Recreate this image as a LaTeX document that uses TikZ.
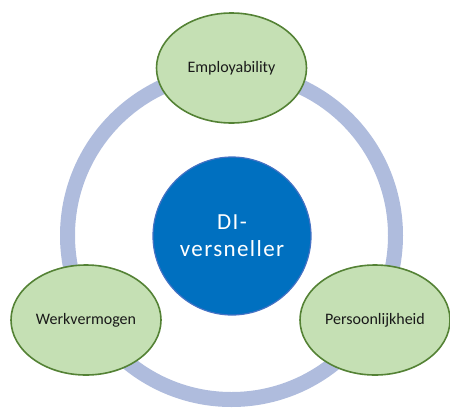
\documentclass[tikz,border=0pt]{standalone}
\usepackage{fontspec}
\setmainfont{Carlito}
\newfontfamily\corefont[LetterSpace=6]{Carlito}
\usetikzlibrary{shapes.geometric}
\definecolor{ringc}{HTML}{AFBCDD}
\definecolor{leaf}{HTML}{C5E0B4}
\definecolor{leafline}{HTML}{548235}
\definecolor{core}{HTML}{0070C0}
\definecolor{coreline}{HTML}{4472C4}
\tikzset{
  leafnode/.style={ellipse, draw=leafline, line width=1.6pt, fill=leaf, minimum width=150pt, minimum height=110pt, inner sep=0pt, font=\fontsize{16}{19}\selectfont, text=black!90},
  corenode/.style={circle, draw=coreline, line width=1.2pt, fill=core, minimum size=158pt, inner sep=0pt, text=white, align=center, font=\corefont\fontsize{23}{27}\selectfont},
  ringline/.style={draw=ringc, line width=15pt}
}
\begin{document}
\begin{tikzpicture}[x=1pt,y=-1pt]
\useasboundingbox (0,0) rectangle (450,408);
\begin{scope}
\clip (0,0) rectangle (450,408);
\coordinate (ctr) at (231.5,235.5);
\node[circle, ringline, minimum size=328pt, inner sep=0pt] (ring) at (ctr) {};
\node[corenode] (di) at (232,236) {DI-\\versneller};
\node[leafnode] (emp) at (231.5,68) {Employability};
\node[leafnode] (werk) at (86,320) {Werkvermogen};
\node[leafnode] (pers) at (375,320) {Persoonlijkheid};
\end{scope}
\end{tikzpicture}
\end{document}
